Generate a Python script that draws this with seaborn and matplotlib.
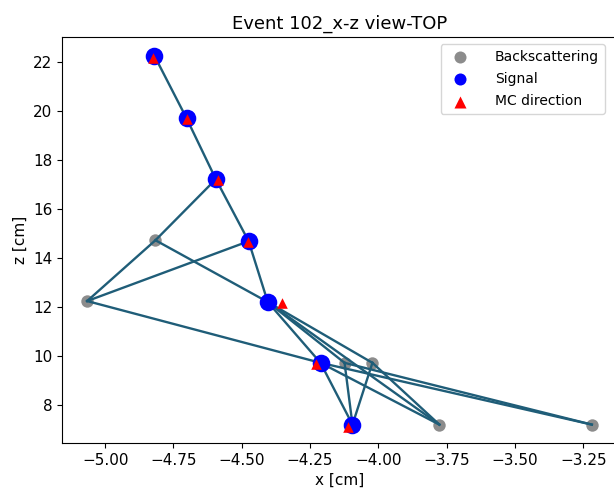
import matplotlib
matplotlib.use("Agg")
import matplotlib.pyplot as plt
import seaborn as sns
import pandas as pd

# hit positions
sig_x = [-4.820, -4.702, -4.595, -4.475, -4.405, -4.212, -4.095]
sig_z = [22.24, 19.68, 17.20, 14.67, 12.19, 9.71, 7.19]
bs_x = [-4.816, -5.066, -4.124, -4.022, -3.777, -3.219]
bs_z = [14.71, 12.23, 9.71, 9.71, 7.19, 7.19]
mc_x = [-4.825, -4.700, -4.588, -4.478, -4.354, -4.230, -4.113]
mc_z = [22.16, 19.64, 17.16, 14.63, 12.15, 9.67, 7.10]

# connections between hits ("S" signal index, "B" backscattering index)
edges = [("S0", "S1"), ("S1", "S2"), ("S2", "S3"), ("S3", "S4"),
         ("S2", "B0"), ("B0", "B1"), ("B1", "S3"), ("B0", "S4"),
         ("B1", "S5"), ("S4", "S5"), ("S4", "B2"), ("S4", "B3"),
         ("S4", "B4"), ("S5", "S6"), ("S5", "B5"), ("B2", "S6"),
         ("B3", "S6"), ("B3", "B4"), ("B2", "B5"), ("S5", "B4")]

nodes = {}
for i, (x, z) in enumerate(zip(sig_x, sig_z)):
    nodes[f"S{i}"] = (x, z)
for i, (x, z) in enumerate(zip(bs_x, bs_z)):
    nodes[f"B{i}"] = (x, z)

sig_df = pd.DataFrame({"x": sig_x, "z": sig_z})
bs_df = pd.DataFrame({"x": bs_x, "z": bs_z})
mc_df = pd.DataFrame({"x": mc_x, "z": mc_z})

plt.rcParams["font.size"] = 11

fig = plt.figure(figsize=(6.14, 4.88), dpi=100)
ax = fig.add_axes([62 / 614, 45 / 488, 555 / 614, 406 / 488])

# edges
for a, b in edges:
    ax.plot([nodes[a][0], nodes[b][0]], [nodes[a][1], nodes[b][1]],
            color="#1f5d78", linewidth=1.7, zorder=2)

sns.scatterplot(data=bs_df, x="x", y="z", color="gray", s=80, linewidth=0,
                alpha=0.9, label="Backscattering", ax=ax, zorder=1)
sns.scatterplot(data=sig_df, x="x", y="z", color="blue", s=160, linewidth=0,
                label="Signal", ax=ax, zorder=3)
sns.scatterplot(data=mc_df, x="x", y="z", color="red", marker="^", s=58,
                linewidth=0, label="MC direction", ax=ax, zorder=4)

ax.set_title("Event 102_x-z view-TOP", fontsize=13)
ax.set_xlabel("x [cm]")
ax.set_ylabel("z [cm]")
ax.set_xlim(-5.158, -3.127)
ax.set_ylim(6.44, 23.0)
ax.set_xticks([-5.0, -4.75, -4.5, -4.25, -4.0, -3.75, -3.5, -3.25])
ax.set_yticks([8, 10, 12, 14, 16, 18, 20, 22])

leg = ax.legend(loc="upper right", bbox_to_anchor=(0.99, 1.0), fontsize=10,
                handletextpad=1.5, labelspacing=0.6, borderpad=0.4)
for h in leg.legend_handles:
    h.set_sizes([75])

plt.savefig("out.png", dpi=100)
plt.close()
